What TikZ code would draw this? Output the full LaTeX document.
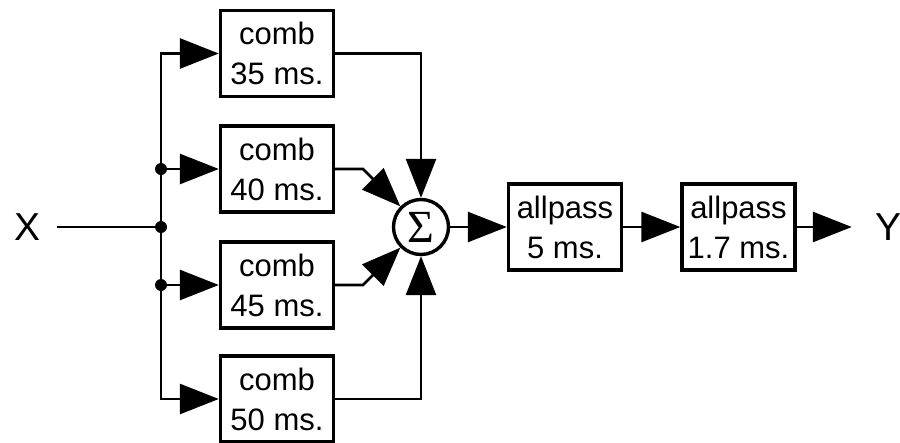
\documentclass[tikz,border=0pt]{standalone}
\usepackage{fontspec}
\setmainfont{Liberation Sans}
\newfontfamily\sigmafont{Liberation Serif}
\usetikzlibrary{arrows.meta}
\begin{document}
\begin{tikzpicture}[x=1pt,y=-1pt,
  blk/.style={draw,line width=3.4pt,minimum width=113pt,minimum height=86pt,
    inner sep=0pt,align=center,font=\fontsize{31}{40}\selectfont},
  conn/.style={line width=2.8pt},
  arr/.style={conn,-{Triangle[length=39pt,width=30pt]}},
  junc/.style={circle,fill,inner sep=0pt,minimum size=12pt},
  sumnode/.style={circle,draw,line width=3.4pt,minimum size=55pt,inner sep=0pt,
    font=\sigmafont\fontsize{46}{46}\selectfont},
  term/.style={inner ysep=0pt,font=\fontsize{39}{39}\selectfont}]
\useasboundingbox (0,0) rectangle (900,442);

% terminals
\node[term,inner xsep=16pt] (X) at (28,227) {X};
\node[term,inner xsep=23pt] (Y) at (888,227) {Y};

% comb filters
\node[blk] (c1) at (277,53.5) {comb\\35 ms.};
\node[blk] (c2) at (277,169) {comb\\40 ms.};
\node[blk] (c3) at (277,285) {comb\\45 ms.};
\node[blk] (c4) at (277,399) {comb\\50 ms.};

% summer and allpass filters
\node[sumnode] (sum) at (421,227) {Σ};
\node[blk] (a1) at (565,227) {allpass\\5 ms.};
\node[blk] (a2) at (738.5,227) {allpass\\1.7 ms.};

% junctions
\node[junc] (d1) at (161,169) {};
\node[junc] (d2) at (161,227) {};
\node[junc] (d3) at (161,285) {};
\coordinate (k2) at (363,169);
\coordinate (k3) at (363,285);

% input distribution
\draw[conn] (X.east) -- (d2.center);
\draw[arr] (d2.center) |- (c1.west);
\draw[arr] (d2.center) |- (c4.west);
\draw[arr] (d1.center) -- (c2.west);
\draw[arr] (d3.center) -- (c3.west);

% to summer
\draw[arr] (c1.east) -| (sum.north);
\draw[arr] (c4.east) -| (sum.south);
\draw[arr] (c2.east) -- (k2) -- (sum.135);
\draw[arr] (c3.east) -- (k3) -- (sum.225);

% output chain
\draw[arr] (sum.east) -- (a1.west);
\draw[arr] (a1.east) -- (a2.west);
\draw[arr] (a2.east) -- (Y.west);
\end{tikzpicture}
\end{document}
